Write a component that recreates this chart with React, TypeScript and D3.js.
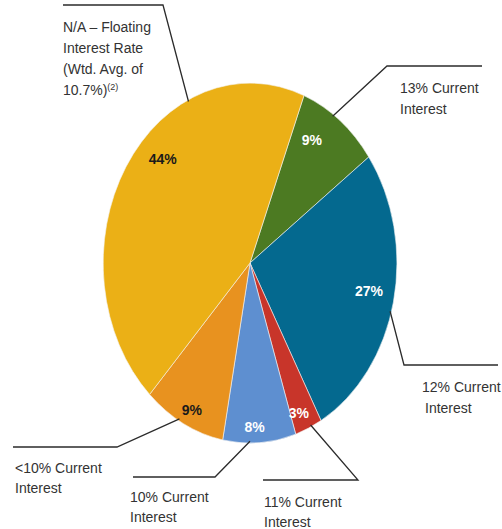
import React from "react";
import * as d3 from "d3";

// ---- data ----
const categories = [
  "13% Current Interest",
  "12% Current Interest",
  "11% Current Interest",
  "10% Current Interest",
  "<10% Current Interest",
  "N/A – Floating Interest Rate (Wtd. Avg. of 10.7%)",
];
const categoryLines = [
  ["13% Current", "Interest"],
  ["12% Current", "Interest"],
  ["11% Current", "Interest"],
  ["10% Current", "Interest"],
  ["<10% Current", "Interest"],
  ["N/A – Floating", "Interest Rate", "(Wtd. Avg. of", "10.7%)"],
];
const footnotes = ["", "", "", "", "", "(2)"];
const shares = [9, 27, 3, 8, 9, 44];

// ---- styles / layout ----
const colors = ["#4C7A22", "#04698F", "#C8352A", "#5E8FD0", "#E8921F", "#EBB016"];
const valueColors = ["#ffffff", "#ffffff", "#ffffff", "#ffffff", "#1a1a1a", "#1a1a1a"];
const W = 502, H = 529;
const cx = 250, cy = 263, rx = 147, ry = 180;
const startDeg = 21.5;
// label placement: angle offset (deg) from slice mid, radius fraction
const valuePlacement = [
  { dA: -6, r: 0.8 },
  { dA: -1.5, r: 0.825 },
  { dA: 1.8, r: 0.9 },
  { dA: 1.7, r: 0.91 },
  { dA: -1, r: 0.907 },
  { dA: 12, r: 0.83 },
];
// leader: anchor angle on edge (deg), elbow point, end point, text x, first baseline, line step, indents
const leaders = [
  { a: 34.6, elbow: [387, 66], end: [482, 66], tx: 400, ty: 93, step: 21, indent: [0, 0] },
  { a: 105.7, elbow: [404, 365], end: [498, 365], tx: 422, ty: 392, step: 21, indent: [0, 3] },
  { a: 155.4, elbow: [358, 480], end: [263, 480], tx: 264, ty: 507, step: 20, indent: [0, 0] },
  { a: 180, elbow: [215, 477], end: [133, 477], tx: 130, ty: 502, step: 20, indent: [0, 0] },
  { a: 209, elbow: [117, 447], end: [13, 447], tx: 15, ty: 473, step: 20, indent: [0, 0] },
  { a: 335, elbow: [163, 5], end: [63, 5], tx: 63, ty: 32, step: 21, indent: [0, 0, 0, 0] },
];

const rad = (d: number) => (d * Math.PI) / 180;
const pt = (a: number, r: number): [number, number] => [
  cx + rx * r * Math.sin(a),
  cy - ry * r * Math.cos(a),
];

export default function App() {
  const pie = d3
    .pie<number>()
    .sort(null)
    .value((d) => d)
    .startAngle(rad(startDeg))
    .endAngle(rad(startDeg) + 2 * Math.PI);
  const arcs = pie(shares);
  const arc = d3.arc<d3.PieArcDatum<number>>().innerRadius(0).outerRadius(1);
  const line = d3.line();
  const font = "'Liberation Sans', Arial, Helvetica, sans-serif";

  return (
    <svg width={W} height={H} style={{ position: "absolute", left: 0, top: 0 }}>
      <rect width={W} height={H} fill="#fff" />
      <g transform={`translate(${cx},${cy}) scale(${rx},${ry})`}>
        {arcs.map((d, i) => (
          <path
            key={categories[i]}
            d={arc(d) || ""}
            fill={colors[i]}
            stroke="#f4f4f4"
            strokeWidth={0.6}
            vectorEffect="non-scaling-stroke"
          />
        ))}
      </g>
      {arcs.map((d, i) => {
        const mid = (d.startAngle + d.endAngle) / 2 + rad(valuePlacement[i].dA);
        const [x, y] = pt(mid, valuePlacement[i].r);
        return (
          <text
            key={"v" + i}
            x={x}
            y={y}
            dy="0.35em"
            textAnchor="middle"
            fontFamily={font}
            fontWeight="bold"
            fontSize={14}
            fill={valueColors[i]}
          >
            {d3.format(".0f")(shares[i])}%
          </text>
        );
      })}
      {leaders.map((L, i) => {
        const s = pt(rad(L.a), 0.99);
        return (
          <g key={"l" + i}>
            <path
              d={line([s, L.elbow as [number, number], L.end as [number, number]]) || ""}
              fill="none"
              stroke="#2b2b2b"
              strokeWidth={1.3}
            />
            {categoryLines[i].map((t, j) => (
              <text
                key={j}
                x={L.tx + (L.indent[j] || 0)}
                y={L.ty + j * L.step}
                fontFamily={font}
                fontSize={14}
                fill="#333"
              >
                {t}
                {j === categoryLines[i].length - 1 && footnotes[i] ? (
                  <tspan fontSize={9} dy={-5}>
                    {footnotes[i]}
                  </tspan>
                ) : null}
              </text>
            ))}
          </g>
        );
      })}
    </svg>
  );
}
